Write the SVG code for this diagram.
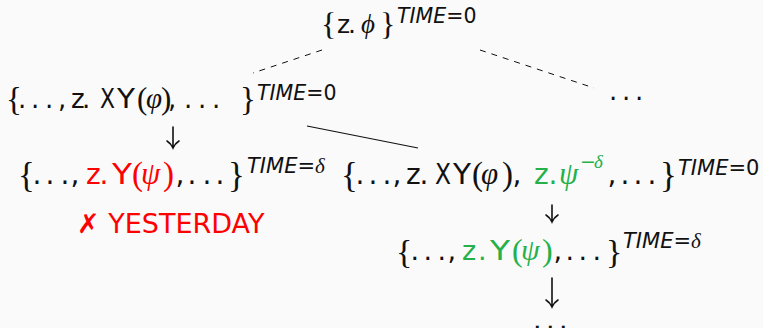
<svg xmlns="http://www.w3.org/2000/svg" width="763" height="328" viewBox="0 0 763 328">
<style>
text{font-family:"DejaVu Sans",sans-serif;fill:#111}
.b{font-family:"Liberation Serif","DejaVu Serif",serif}
.g{font-family:"Liberation Serif","DejaVu Serif",serif;font-style:italic}
.it{font-style:italic}
.red{fill:#ff0000}
.grn{fill:#25b04a}
.dash{stroke:#111;stroke-width:1;stroke-dasharray:6 6;fill:none}
.ln{stroke:#111;stroke-width:1.2;fill:none}
.ar{stroke:#111;stroke-width:1.6;fill:none;stroke-linecap:round}
</style>
<rect width="763" height="328" fill="#fafafa"/>
<g id="connectors">
<line class="dash" x1="322" y1="50" x2="253" y2="73"/>
<line class="dash" x1="480" y1="50" x2="594" y2="88"/>
<line class="ln" x1="307" y1="126" x2="418" y2="148"/>
<path class="ar" d="M173,127V148M167,141Q171,143.5 173,148Q175,143.5 179,141"/>
<path class="ar" d="M552,205V222M546,215Q550,217.5 552,222Q554,217.5 558,215"/>
<path class="ar" d="M552,278V307M546,300Q550,302.5 552,307Q554,302.5 558,300"/>
</g>
<g id="root">
<text font-size="25"><tspan class="b" font-size="32" x="321" y="35">{</tspan><tspan x="337" y="33">z</tspan><tspan x="348" y="33">.</tspan><tspan class="g" font-size="27" x="361" y="33">ϕ</tspan><tspan class="b" font-size="32" x="380" y="35">}</tspan><tspan font-size="20.5" x="397" y="23"><tspan class="it">TIME</tspan>=0</tspan></text>
</g>
<g id="n1">
<text font-size="26"><tspan class="b" font-size="33" x="6" y="110">{</tspan><tspan x="18 31 45" y="108">...</tspan><tspan x="58" y="108">,</tspan><tspan x="71" y="108">z</tspan><tspan x="82" y="108">.</tspan><tspan x="100" y="108" textLength="15" lengthAdjust="spacingAndGlyphs">X</tspan><tspan x="117" y="108" textLength="18" lengthAdjust="spacingAndGlyphs">Y</tspan><tspan class="b" font-size="31" x="137" y="109">(</tspan><tspan class="g" font-size="29" x="146" y="108">φ</tspan><tspan class="b" font-size="31" x="161" y="109">)</tspan><tspan x="168" y="108">,</tspan><tspan x="184 198 212" y="108">...</tspan><tspan class="b" font-size="33" x="240" y="110">}</tspan><tspan font-size="20.5" x="257" y="100"><tspan class="it">TIME</tspan>=0</tspan></text>
</g>
<g id="n2">
<text font-size="26" y="100"><tspan x="609 622 635">...</tspan></text>
</g>
<g id="n3">
<text font-size="28"><tspan class="b" font-size="35" x="18" y="187">{</tspan><tspan x="32.5 45.5 60.5" y="184">...</tspan><tspan x="70.5" y="184">,</tspan><tspan class="red" x="86" y="184">z</tspan><tspan class="red" x="99.5" y="184">.</tspan><tspan class="red" x="112" y="184" textLength="20" lengthAdjust="spacingAndGlyphs">Y</tspan><tspan class="b red" font-size="33" x="132" y="185">(</tspan><tspan class="g red" font-size="31" x="141" y="184">ψ</tspan><tspan class="b red" font-size="33" x="163" y="185">)</tspan><tspan x="175.5" y="184">,</tspan><tspan x="187.5 202.5 215.5" y="184">...</tspan><tspan class="b" font-size="35" x="228" y="187">}</tspan><tspan font-size="21" x="247" y="173"><tspan class="it">TIME</tspan>=<tspan class="g">δ</tspan></tspan></text>
<text class="red" font-size="27" x="77" y="233">✗ YESTERDAY</text>
</g>
<g id="n4">
<text font-size="28"><tspan class="b" font-size="35" x="341" y="187">{</tspan><tspan x="355.5 368.5 382.5" y="184">...</tspan><tspan x="392.5" y="184">,</tspan><tspan x="406" y="184">z</tspan><tspan x="419.5" y="184">.</tspan><tspan x="435" y="184" textLength="16" lengthAdjust="spacingAndGlyphs">X</tspan><tspan x="453" y="184" textLength="18" lengthAdjust="spacingAndGlyphs">Y</tspan><tspan class="b" font-size="33" x="472" y="185">(</tspan><tspan class="g" font-size="31" x="481" y="184">φ</tspan><tspan class="b" font-size="33" x="502" y="185">)</tspan><tspan x="512.5" y="184">,</tspan><tspan class="grn" x="534" y="184">z</tspan><tspan class="grn" x="548.5" y="184">.</tspan><tspan class="g grn" font-size="31" x="559" y="184">ψ</tspan><tspan class="grn" font-size="19" x="580" y="168" font-family="'DejaVu Serif',serif">−</tspan><tspan class="g grn" font-size="19" x="594" y="168">δ</tspan><tspan x="607.5" y="184">,</tspan><tspan x="620.5 633.5 647.5" y="184">...</tspan><tspan class="b" font-size="35" x="660" y="187">}</tspan><tspan font-size="21" x="678" y="175"><tspan class="it">TIME</tspan>=0</tspan></text>
</g>
<g id="n5">
<text font-size="27"><tspan class="b" font-size="34" x="396" y="263">{</tspan><tspan x="410.5 423.5 437.5" y="260">...</tspan><tspan x="447.5" y="260">,</tspan><tspan class="grn" x="462" y="260">z</tspan><tspan class="grn" x="478" y="260">.</tspan><tspan class="grn" x="490" y="260" textLength="20" lengthAdjust="spacingAndGlyphs">Y</tspan><tspan class="b grn" font-size="32" x="512" y="261">(</tspan><tspan class="g grn" font-size="30" x="521" y="260">ψ</tspan><tspan class="b grn" font-size="32" x="542" y="261">)</tspan><tspan x="553.5" y="260">,</tspan><tspan x="565.5 578.5 592.5" y="260">...</tspan><tspan class="b" font-size="34" x="606" y="263">}</tspan><tspan font-size="21" x="623" y="248"><tspan class="it">TIME</tspan>=<tspan class="g">δ</tspan></tspan></text>
</g>
<g id="n6">
<text font-size="27" y="329"><tspan x="533 546 559">...</tspan></text>
</g>
</svg>
